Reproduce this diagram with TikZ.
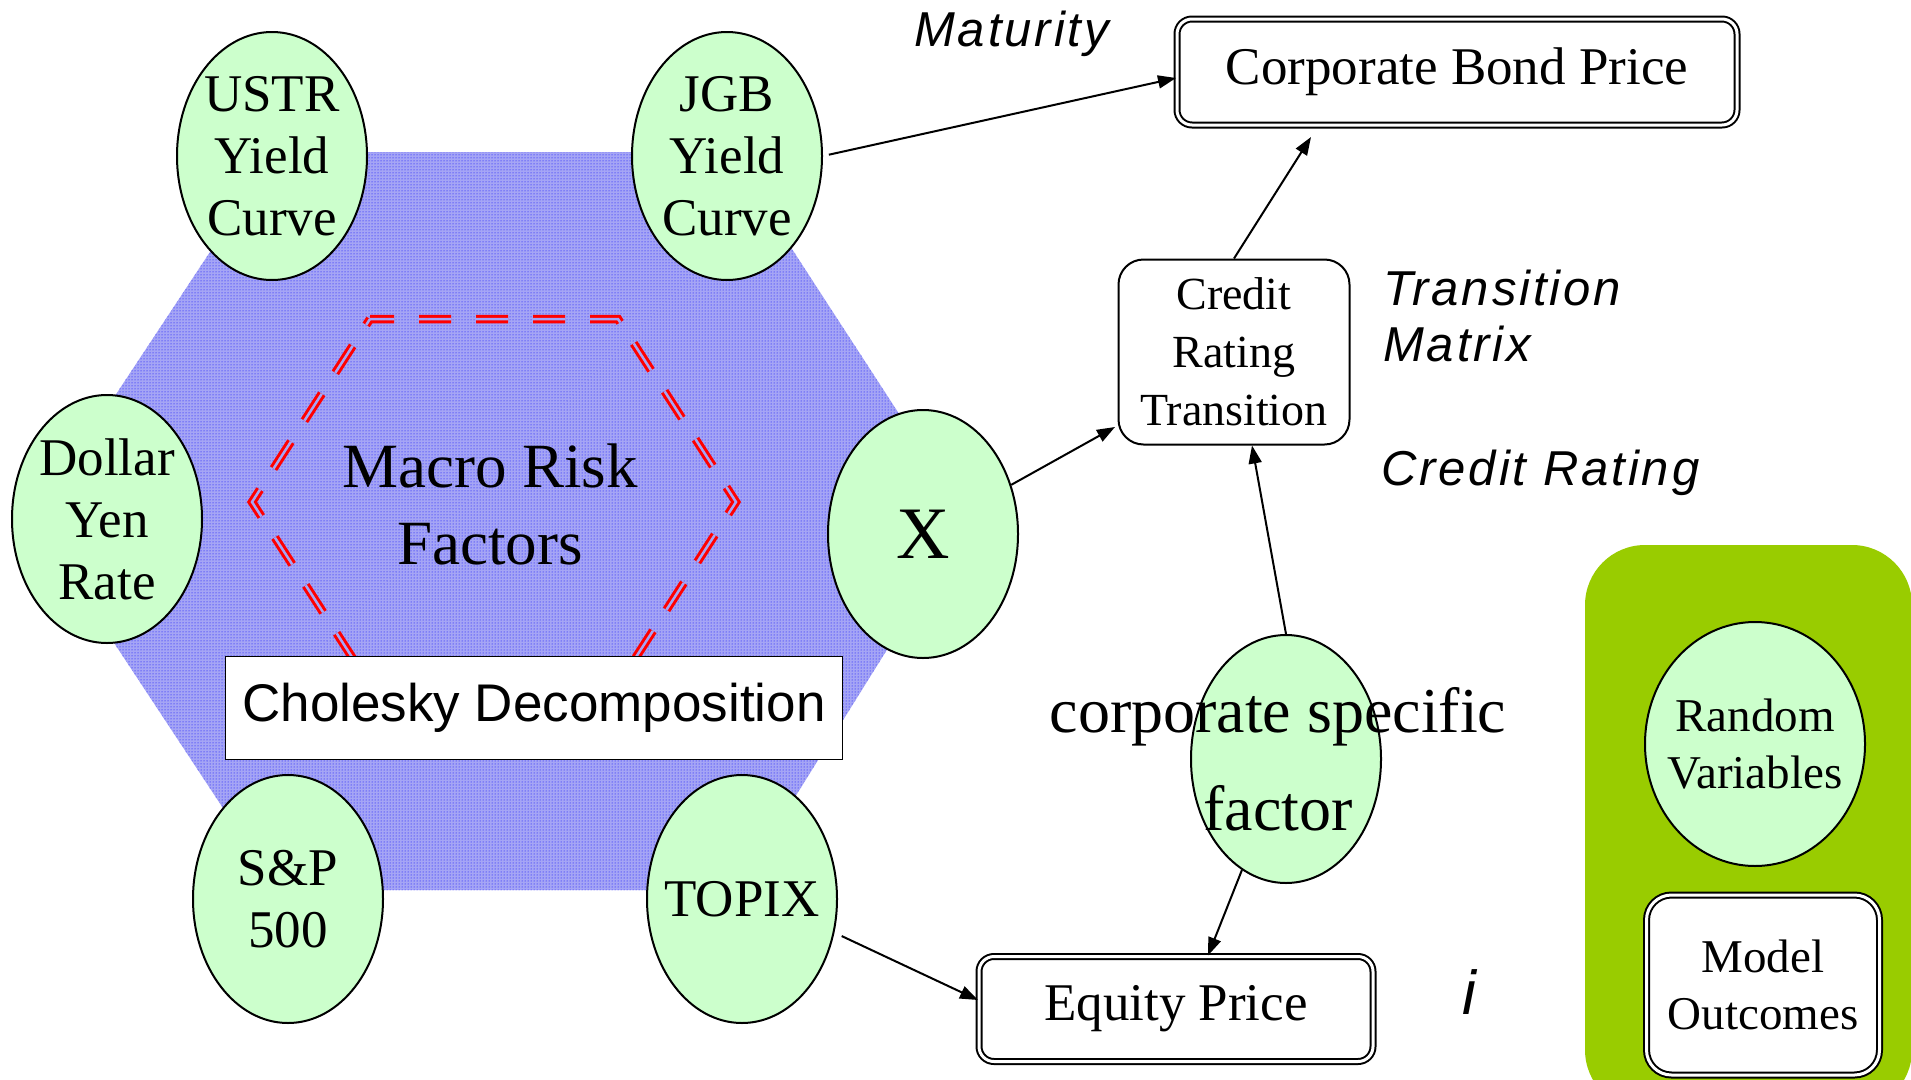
\documentclass[tikz,border=0pt]{standalone}
\usepackage{fontspec}
\setmainfont{Liberation Serif}
\setsansfont{Liberation Sans}
\newfontfamily\notefont[LetterSpace=6]{Liberation Sans}
\usetikzlibrary{arrows.meta,calc,positioning,shapes.geometric,patterns}

\definecolor{hexblue}{RGB}{165,165,245}
\definecolor{factorgreen}{RGB}{204,255,204}
\definecolor{panelgreen}{RGB}{153,204,0}

\tikzset{
  factor/.style={ellipse, draw, line width=2pt, fill=factorgreen,
    minimum width=190pt, minimum height=248pt, inner xsep=-20pt, inner ysep=-4pt,
    align=center, font=\fontsize{53}{62}\selectfont},
  outcome/.style={draw, line width=2pt, double=white, double distance=3pt, fill=white,
    rounded corners=15pt, inner sep=2pt, align=center, font=\fontsize{53}{62}\selectfont},
  note/.style={anchor=base west, inner sep=0pt, align=left,
    font=\notefont\itshape\fontsize{49}{56}\selectfont},
  link/.style={-{Triangle[length=18pt,width=13pt]}, line width=2pt},
}

\begin{document}
\begin{tikzpicture}[x=1pt,y=-1pt]
    %% Frame
    \useasboundingbox (0,0) rectangle (1911,1079);
    \clip (0,0) rectangle (1911,1079);

    %% Hexagon of macro factors
    \fill[hexblue] (276,152) -- (729,152) -- (968,520) -- (737,890) -- (277,890) -- (33,520) -- cycle;
    \fill[pattern=dots, pattern color=blue] (276,152) -- (729,152) -- (968,520) -- (737,890) -- (277,890) -- (33,520) -- cycle;
    \draw[red, line width=3pt, double=hexblue, double distance=2.5pt,
      dash pattern=on 32pt off 25pt, dash phase=8pt]
      (370,319) -- (618,319) -- (736,502) -- (618,685) -- (370,685) -- (252,502) -- cycle;

    \node[draw, line width=1.5pt, fill=white, minimum width=617pt, minimum height=103pt,
      inner sep=2pt, font=\sffamily\fontsize{53}{60}\selectfont] (chol) at (534,708) {Cholesky Decomposition};
    \node[align=center, font=\fontsize{63}{77}\selectfont] (macro) at (490,504) {Macro Risk\\Factors};

    %% Factors
    \node[factor] (ustr) at (272,156) {USTR\\Yield\\Curve};
    \node[factor] (jgb) at (727,156) {JGB\\Yield\\Curve};
    \node[factor] (fx) at (107,519) {Dollar\\Yen\\Rate};
    \node[factor, font=\fontsize{74}{80}\selectfont] (x) at (923,534) {X};
    \node[factor] (sp) at (288,899) {S\&P\\500};
    \node[factor] (topix) at (742,899) {TOPIX};
    \node[factor] (csf) at (1286,759) {};
    \node[align=center, font=\fontsize{64}{98}\selectfont] (csftext) at (1278,759) {corporate specific\\factor};

    %% Outcomes
    \node[outcome, minimum width=560pt, minimum height=106pt] (cbp) at (1457,72) {Corporate Bond Price};
    \node[outcome, minimum width=394pt, minimum height=105pt] (eq) at (1176,1009) {Equity Price};
    \node[draw, line width=2pt, fill=white, rounded corners=25pt, minimum width=231pt,
      minimum height=185pt, inner sep=3pt, align=center, font=\fontsize{46}{58}\selectfont] (crt) at (1234,352) {Credit\\Rating\\Transition};

    %% Legend
    \fill[panelgreen, rounded corners=60pt] (1585,545) rectangle (1912,1110);
    \node[factor, minimum width=220pt, minimum height=244pt, inner xsep=-16pt,
      font=\fontsize{47}{57}\selectfont] (rv) at (1755,744) {Random\\Variables};
    \node[outcome, minimum width=233pt, minimum height=180pt, rounded corners=25pt,
      font=\fontsize{47}{57}\selectfont] (mo) at (1763,985) {Model\\Outcomes};

    %% Notes
    \node[note] (maturity) at (914,46) {Maturity};
    \node[note] (matrix) at (1383,361) {Transition\\Matrix};
    \node[note] (rating) at (1381,485) {Credit Rating};
    \node[note, font=\notefont\itshape\fontsize{62}{62}\selectfont] (corp) at (1462,1014) {i};

    %% Links
    \coordinate (cbpfoot) at (1311,137);
    \coordinate (crtside) at (1115,427);
    \draw[link, shorten <=6pt] (jgb.east) -- ([yshift=-6pt]cbp.west);
    \draw[link] (crt.north) -- (cbpfoot);
    \draw[link] (x) -- (crtside);
    \draw[link] (csf.north) -- ([xshift=18pt]crt.south);
    \draw[link] (csf) -- ([xshift=32pt]eq.north);
    \draw[link, shorten <=8pt] (topix.-20) -- ([yshift=9pt]eq.west);
\end{tikzpicture}
\end{document}
